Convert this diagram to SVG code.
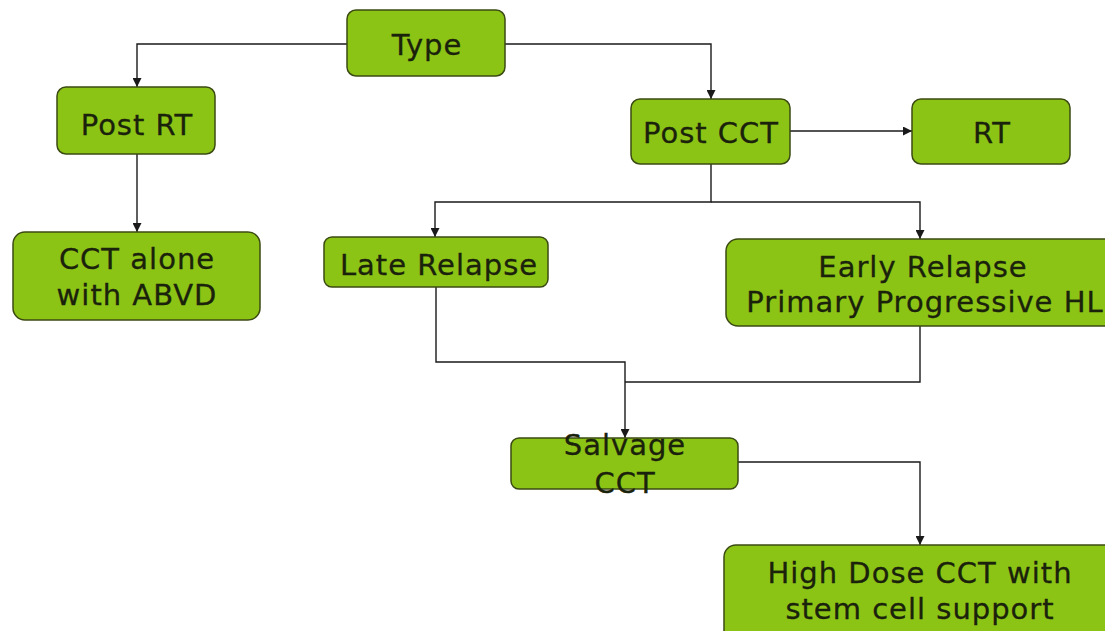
<svg xmlns="http://www.w3.org/2000/svg" width="1105" height="631" viewBox="0 0 1105 631">
  <defs>
    <marker id="arrow" viewBox="0 0 10 10" refX="10" refY="5" markerWidth="9" markerHeight="9" markerUnits="userSpaceOnUse" orient="auto">
      <path d="M0,0 L10,5 L0,10 z" fill="#1a1a1a"/>
    </marker>
    <style>
      .box { fill: #8cc416; stroke: #3b4a12; stroke-width: 1.5; }
      .lbl { font-family: "DejaVu Sans", Verdana, sans-serif; font-size: 29px; letter-spacing: 1px; fill: #1a220c; stroke: #1a220c; stroke-width: 0.3; text-anchor: middle; }
      .wire { fill: none; stroke: #1a1a1a; stroke-width: 1.4; }
    </style>
  </defs>
  <rect width="1105" height="631" fill="#ffffff"/>

  <!-- connectors -->
  <g id="connectors">
    <path class="wire" d="M347,44 H137 V87" marker-end="url(#arrow)"/>
    <path class="wire" d="M505,44 H711 V99" marker-end="url(#arrow)"/>
    <path class="wire" d="M137,154 V232" marker-end="url(#arrow)"/>
    <path class="wire" d="M790,131 H912" marker-end="url(#arrow)"/>
    <path class="wire" d="M711,164 V202 H435 V237" marker-end="url(#arrow)"/>
    <path class="wire" d="M711,202 H920 V239" marker-end="url(#arrow)"/>
    <path class="wire" d="M436,287 V362 H625 V438" marker-end="url(#arrow)"/>
    <path class="wire" d="M920,326 V382 H625"/>
    <path class="wire" d="M738,462 H920 V545" marker-end="url(#arrow)"/>
  </g>

  <g id="type">
    <rect class="box" x="347" y="10" width="158" height="66" rx="9"/>
    <text class="lbl" x="427" y="55">Type</text>
  </g>
  <g id="post-rt">
    <rect class="box" x="57" y="87" width="158" height="67" rx="9"/>
    <text class="lbl" x="137" y="135">Post RT</text>
  </g>
  <g id="post-cct">
    <rect class="box" x="631" y="99" width="159" height="65" rx="9"/>
    <text class="lbl" x="711" y="143">Post CCT</text>
  </g>
  <g id="rt">
    <rect class="box" x="912" y="99" width="158" height="65" rx="9"/>
    <text class="lbl" x="992" y="143">RT</text>
  </g>
  <g id="cct-alone">
    <rect class="box" x="13" y="232" width="247" height="88" rx="12"/>
    <text class="lbl" x="137" y="269">CCT alone</text>
    <text class="lbl" x="137" y="305">with ABVD</text>
  </g>
  <g id="late-relapse">
    <rect class="box" x="324" y="237" width="224" height="50" rx="8"/>
    <text class="lbl" x="439" y="275">Late Relapse</text>
  </g>
  <g id="early-relapse">
    <rect class="box" x="726" y="239" width="394" height="87" rx="12"/>
    <text class="lbl" x="923" y="277">Early Relapse</text>
    <text class="lbl" x="925" y="312">Primary Progressive HL</text>
  </g>
  <g id="salvage-cct">
    <rect class="box" x="511" y="438" width="227" height="51" rx="8"/>
    <text class="lbl" x="625" y="455">Salvage</text>
    <text class="lbl" x="625" y="493">CCT</text>
  </g>
  <g id="high-dose">
    <rect class="box" x="724" y="545" width="400" height="100" rx="12"/>
    <text class="lbl" x="920" y="583">High Dose CCT with</text>
    <text class="lbl" x="920" y="619">stem cell support</text>
  </g>
</svg>
